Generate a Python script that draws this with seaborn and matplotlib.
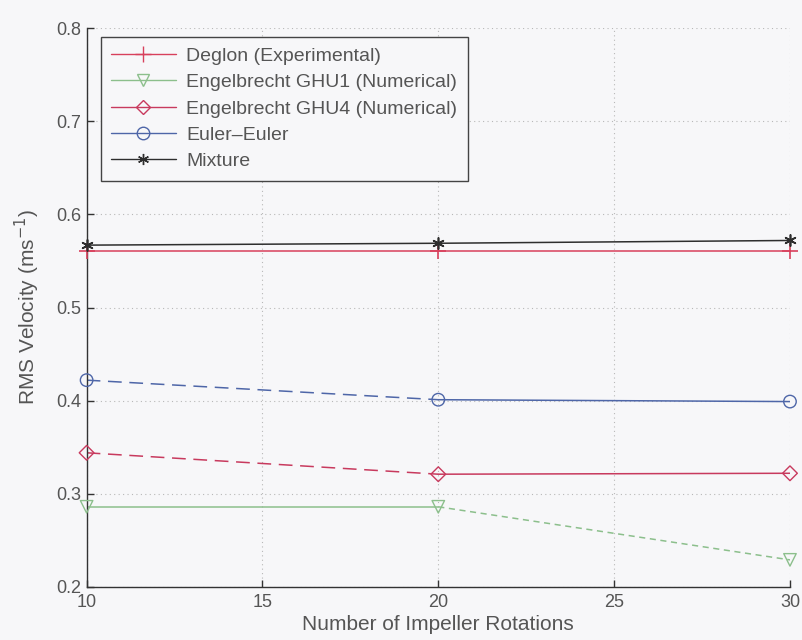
import matplotlib
matplotlib.use("Agg")
import matplotlib.pyplot as plt
from matplotlib.lines import Line2D
import seaborn as sns
import pandas as pd

# Impeller rotations at which the RMS velocity was evaluated
rotations = [10, 20, 30]

# RMS velocity (m/s) per model
deglon = [0.561, 0.561, 0.561]
ghu1 = [0.286, 0.286, 0.229]
ghu4 = [0.344, 0.321, 0.322]
euler_euler = [0.422, 0.401, 0.399]
mixture = [0.567, 0.569, 0.572]

labels = [
    "Deglon (Experimental)",
    "Engelbrecht GHU1 (Numerical)",
    "Engelbrecht GHU4 (Numerical)",
    "Euler\u2013Euler",
    "Mixture",
]

x_ticks = [10, 15, 20, 25, 30]
y_ticks = [0.2, 0.3, 0.4, 0.5, 0.6, 0.7, 0.8]

# asterisk marker: six arms
asterisk = (6, 2, 0)

# style of every series: colour, marker, marker size, segment line styles
series = [
    (deglon, "#d8405c", "+", 12, ["-", "-"]),
    (ghu1, "#8cbf8c", "v", 9, ["-", (0, (4, 3))]),
    (ghu4, "#c83a5e", "D", 7.5, [(0, (9, 5)), "-"]),
    (euler_euler, "#4e66a8", "o", 9, [(0, (9, 5)), "-"]),
    (mixture, "#2e2e2e", asterisk, 8, ["-", "-"]),
]

sns.set_theme(style="white")
plt.rcParams["font.family"] = ["Liberation Sans", "DejaVu Sans"]

bg = "#f7f7f9"
text_col = "#555555"
fig = plt.figure(figsize=(8.02, 6.40), dpi=100, facecolor=bg)
ax = fig.add_axes([0.108, 0.083, 0.877, 0.873], facecolor=bg)

handles = []
for (vals, color, marker, ms, segstyles), label in zip(series, labels):
    df = pd.DataFrame({"rot": rotations, "rms": vals})
    for i, ls in enumerate(segstyles):
        seg = df.iloc[i:i + 2]
        sns.lineplot(data=seg, x="rot", y="rms", ax=ax, color=color,
                     linewidth=1.1, linestyle=ls, legend=False)
    filled = marker in ("+", asterisk)
    sns.scatterplot(data=df, x="rot", y="rms", ax=ax, marker=marker,
                    s=ms ** 2,
                    facecolor=color if filled else "none",
                    edgecolor=color, color=color,
                    linewidth=1.2 if filled else 1.0,
                    zorder=5, legend=False, clip_on=False)
    handles.append(Line2D([], [], color=color, linewidth=1.0, marker=marker,
                          markersize=ms,
                          markerfacecolor=color if filled else "none",
                          markeredgecolor=color, markeredgewidth=1.0))

ax.set_xlim(10, 30)
ax.set_ylim(0.2, 0.8)
ax.set_xticks(x_ticks)
ax.set_yticks(y_ticks)
ax.set_xticklabels([str(t) for t in x_ticks])
ax.set_yticklabels([f"{t:.1f}" for t in y_ticks])

ax.grid(True, linestyle=(0, (1, 3)), color="#b8b8b8", linewidth=0.8)
for side in ("top", "right"):
    ax.spines[side].set_visible(False)
for side in ("left", "bottom"):
    ax.spines[side].set_color("#333333")
    ax.spines[side].set_linewidth(1.0)

ax.tick_params(axis="both", direction="in", length=5, width=1.0,
               colors="#333333", labelcolor=text_col, labelsize=13,
               bottom=True, left=True)
ax.tick_params(axis="x", pad=5)
ax.tick_params(axis="y", pad=4)

ax.set_xlabel("Number of Impeller Rotations", fontsize=15, color=text_col,
              labelpad=3)
ax.set_ylabel("RMS Velocity (ms$^{-1}$)", fontsize=15, color=text_col,
              labelpad=10)

leg = ax.legend(handles, labels, loc="upper left",
                bbox_to_anchor=(0.02, 0.985), frameon=True, fontsize=14,
                handlelength=3.3, handletextpad=0.55, labelspacing=0.45,
                borderpad=0.55, borderaxespad=0.0,
                fancybox=False, framealpha=1)
leg.get_frame().set_edgecolor("#444444")
leg.get_frame().set_facecolor(bg)
leg.get_frame().set_linewidth(1.0)
for t in leg.get_texts():
    t.set_color(text_col)

fig.savefig("out.png", dpi=100, facecolor=bg)
